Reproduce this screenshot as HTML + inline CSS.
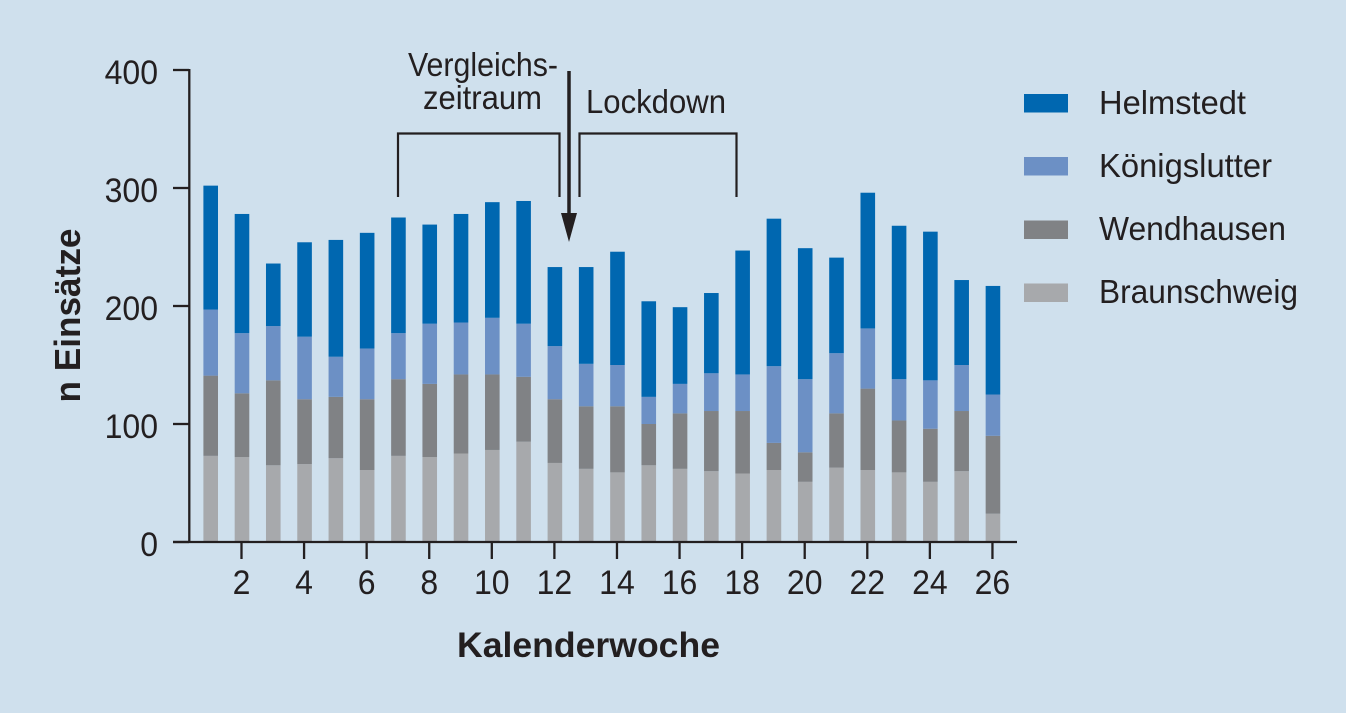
<!DOCTYPE html>
<html lang="de">
<head>
<meta charset="utf-8">
<title>Einsätze pro Kalenderwoche</title>
<style>
html,body{margin:0;padding:0;background:#cfe0ed;}
svg{display:block;}
text{font-family:"Liberation Sans",sans-serif;fill:#231f20;}
</style>
</head>
<body>
<svg id="chart" xmlns="http://www.w3.org/2000/svg" width="1346" height="713" viewBox="0 0 1346 713">
  <rect x="0" y="0" width="1346" height="713" fill="#cfe0ed"/>
  <g id="bars"></g>
  <g id="axes"></g>

  <text transform="translate(80,402.500) rotate(-90)" font-size="36" font-weight="700" textLength="174" lengthAdjust="spacingAndGlyphs">n Einsätze</text>
  <text x="457" y="657" font-size="35" font-weight="700" textLength="263" lengthAdjust="spacingAndGlyphs">Kalenderwoche</text>

  <g>
    <text x="408" y="76" font-size="33" textLength="150" lengthAdjust="spacingAndGlyphs">Vergleichs-</text>
    <text x="423" y="109" font-size="33" textLength="119" lengthAdjust="spacingAndGlyphs">zeitraum</text>
    <text x="586" y="113" font-size="33" textLength="140" lengthAdjust="spacingAndGlyphs">Lockdown</text>
    <path d="M398 197V133.500H559.500V197" fill="none" stroke="#231f20" stroke-width="2.200"/>
    <path d="M579.500 197V133.500H736.500V197" fill="none" stroke="#231f20" stroke-width="2.200"/>
    <line x1="569" y1="71" x2="569" y2="216" stroke="#231f20" stroke-width="3.500"/>
    <polygon points="561,213 577,213 569,242" fill="#231f20"/>
  </g>

  <g>
    <g>
      <rect x="1024" y="94" width="44" height="18.500" fill="#0067b0"/>
      <text x="1099" y="114" font-size="33" textLength="147" lengthAdjust="spacingAndGlyphs">Helmstedt</text>
    </g>
    <g>
      <rect x="1024" y="157" width="44" height="18.500" fill="#6c90c5"/>
      <text x="1099" y="177" font-size="33" textLength="173" lengthAdjust="spacingAndGlyphs">Königslutter</text>
    </g>
    <g>
      <rect x="1024" y="220.500" width="44" height="18.500" fill="#808285"/>
      <text x="1099" y="240" font-size="33" textLength="187" lengthAdjust="spacingAndGlyphs">Wendhausen</text>
    </g>
    <g>
      <rect x="1024" y="283.500" width="44" height="18.500" fill="#a7a9ac"/>
      <text x="1099" y="303" font-size="33" textLength="199" lengthAdjust="spacingAndGlyphs">Braunschweig</text>
    </g>
  </g>
</svg>
<script>
const weeks = [1,2,3,4,5,6,7,8,9,10,11,12,13,14,15,16,17,18,19,20,21,22,23,24,25,26];
const braunschweig = [73,72,65,66,71,61,73,72,75,78,85,67,62,59,65,62,60,58,61,51,63,61,59,51,60,24];
const wendhausen = [68,54,72,55,52,60,65,62,67,64,55,54,53,56,35,47,51,53,23,25,46,69,44,45,51,66];
const koenigslutter = [56,51,46,53,34,43,39,51,44,48,45,45,36,35,23,25,32,31,65,62,51,51,35,41,39,35];
const helmstedt = [105,101,53,80,99,98,98,84,92,98,104,67,82,96,81,65,68,105,125,111,81,115,130,126,72,92];
const yTickValues = [0,100,200,300,400];
const xTickValues = [2,4,6,8,10,12,14,16,18,20,22,24,26];

const SVG_NS = 'http://www.w3.org/2000/svg';
const barsGroup = document.getElementById('bars');
const axesGroup = document.getElementById('axes');
const INK = '#231f20';

function xScale(week) { return 210.7 + (week - 1) * 31.29; }
function yScale(value) { return 542 - value * 1.18; }

function makeLine(x1, y1, x2, y2) {
  const line = document.createElementNS(SVG_NS, 'line');
  line.setAttribute('x1', x1);
  line.setAttribute('y1', y1);
  line.setAttribute('x2', x2);
  line.setAttribute('y2', y2);
  line.setAttribute('stroke', INK);
  line.setAttribute('stroke-width', '2.300');
  return line;
}

function makeLabel(str, x, y, anchor) {
  const label = document.createElementNS(SVG_NS, 'text');
  label.textContent = str;
  label.setAttribute('x', x);
  label.setAttribute('y', y);
  label.setAttribute('text-anchor', anchor);
  label.setAttribute('font-size', '34');
  label.setAttribute('textLength', String(str).length * 17.8);
  label.setAttribute('lengthAdjust', 'spacingAndGlyphs');
  return label;
}

const stackOrder = [
  { key: 'braunschweig', values: braunschweig, color: '#a7a9ac' },
  { key: 'wendhausen', values: wendhausen, color: '#808285' },
  { key: 'koenigslutter', values: koenigslutter, color: '#6c90c5' },
  { key: 'helmstedt', values: helmstedt, color: '#0067b0' }
];

weeks.forEach(function (week, i) {
  let running = 0;
  stackOrder.forEach(function (series) {
    const top = running + series.values[i];
    const rect = document.createElementNS(SVG_NS, 'rect');
    
    
    rect.setAttribute('x', xScale(week) - 7.3);
    rect.setAttribute('width', 14.6);
    rect.setAttribute('y', yScale(top));
    rect.setAttribute('height', yScale(running) - yScale(top));
    rect.setAttribute('fill', series.color);
    barsGroup.appendChild(rect);
    running = top;
  });
});

const yAxisLine = makeLine(189.3, 69, 189.3, 543);


axesGroup.appendChild(yAxisLine);

const xAxisLine = makeLine(173, 542, 1017, 542);


axesGroup.appendChild(xAxisLine);

yTickValues.forEach(function (v) {
  const tick = makeLine(173, yScale(v), 189, yScale(v));
  
  
  axesGroup.appendChild(tick);
  const label = makeLabel(v, 158, yScale(v) + 14, 'end');
  
  
  axesGroup.appendChild(label);
});

xTickValues.forEach(function (v) {
  const tick = makeLine(xScale(v) - 0.5, 542, xScale(v) - 0.5, 559);
  
  
  axesGroup.appendChild(tick);
  const label = makeLabel(v, xScale(v) - 0.5, 594, 'middle');
  
  
  axesGroup.appendChild(label);
});
</script>
</body>
</html>
